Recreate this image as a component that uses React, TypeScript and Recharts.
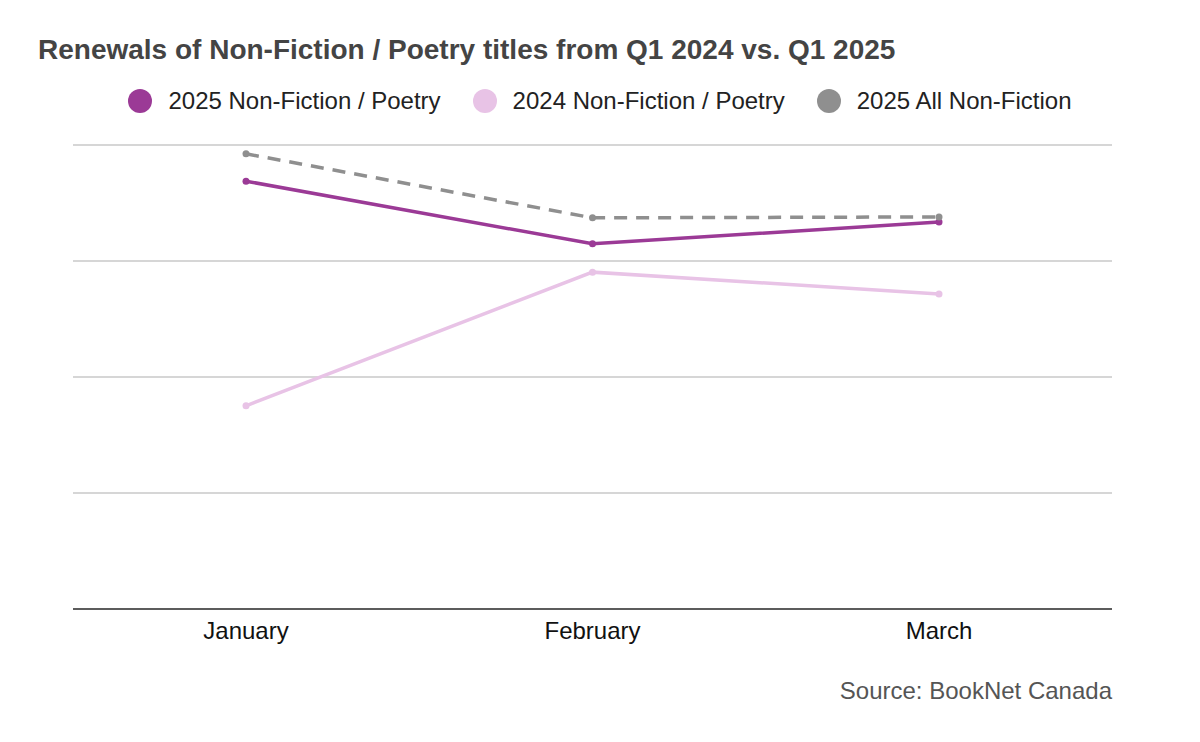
import React from "react"
import { LineChart, Line, XAxis, YAxis, CartesianGrid } from "recharts"

const months = ["January", "February", "March"]
const nf2025 = [92.2, 78.7, 83.4]
const nf2024 = [43.8, 72.6, 67.9]
const allNf2025 = [98.1, 84.3, 84.5]
const yTicks = [0, 25, 50, 75, 100]

const SERIES = [
  { key: "nf2025", name: "2025 Non-Fiction / Poetry", color: "#9b3a96", dash: undefined },
  { key: "nf2024", name: "2024 Non-Fiction / Poetry", color: "#e8c3e6", dash: undefined },
  { key: "allNf2025", name: "2025 All Non-Fiction", color: "#8f8f8f", dash: "13 9" },
]

const data = months.map((m, i) => ({
  month: m,
  nf2025: nf2025[i],
  nf2024: nf2024[i],
  allNf2025: allNf2025[i],
}))

const FONT = "'Liberation Sans', Arial, sans-serif"

export default function App() {
  return (
    <div style={{ position: "absolute", left: 0, top: 0, width: 1200, height: 742, background: "#fff", fontFamily: FONT }}>
      <div style={{ position: "absolute", left: 38, top: 33, fontSize: 28, lineHeight: "34px", fontWeight: "bold", color: "#444", whiteSpace: "nowrap" }}>
        Renewals of Non-Fiction / Poetry titles from Q1 2024 vs. Q1 2025
      </div>
      <div style={{ position: "absolute", left: 0, top: 86, height: 30, width: 1200, display: "flex", justifyContent: "center", alignItems: "center" }}>
        {SERIES.map((s, i) => (
          <div key={s.key} style={{ display: "flex", alignItems: "center", marginLeft: i === 0 ? 0 : 32 }}>
            <span style={{ width: 24, height: 24, borderRadius: 12, background: s.color, display: "inline-block", marginRight: 16 }} />
            <span style={{ fontSize: 24, color: "#222", whiteSpace: "nowrap" }}>{s.name}</span>
          </div>
        ))}
      </div>
      <div style={{ position: "absolute", left: 0, top: 0 }}>
        <LineChart width={1200} height={742} data={data} margin={{ top: 145, right: 88, bottom: 93, left: 73 }}>
          <CartesianGrid vertical={false} stroke="#c8c8c8" strokeWidth={1.5} />
          <XAxis
            dataKey="month"
            height={40}
            padding={{ left: 173, right: 173 }}
            axisLine={{ stroke: "#333", strokeWidth: 1.5 }}
            tickLine={false}
            tickMargin={7}
            tick={{ fontSize: 24, fill: "#111", fontFamily: FONT }}
          />
          <YAxis hide domain={[0, 100]} ticks={yTicks} />
          {SERIES.map((s) => (
            <Line
              key={s.key}
              dataKey={s.key}
              name={s.name}
              stroke={s.color}
              strokeWidth={3.5}
              strokeDasharray={s.dash}
              dot={{ r: 3.5, fill: s.color, stroke: s.color, strokeWidth: 0, strokeDasharray: "" }}
              activeDot={false}
              isAnimationActive={false}
            />
          ))}
        </LineChart>
      </div>
      <div style={{ position: "absolute", right: 88, top: 677, fontSize: 24, lineHeight: "28px", color: "#555", whiteSpace: "nowrap" }}>
        Source: BookNet Canada
      </div>
    </div>
  )
}
